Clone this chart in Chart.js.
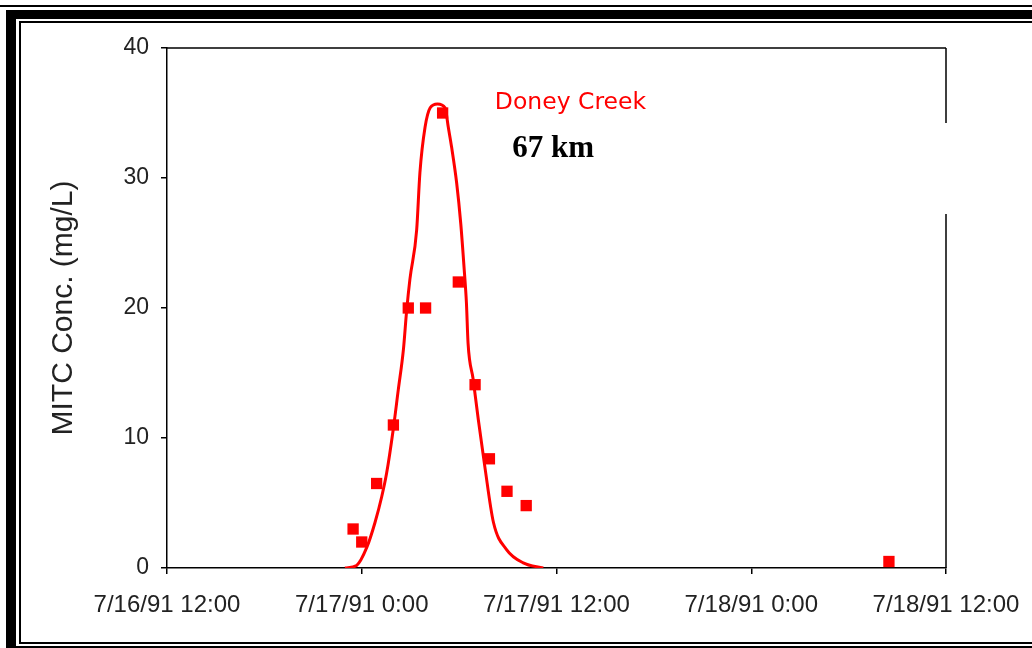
<!DOCTYPE html>
<html>
<head>
<meta charset="utf-8">
<script src="https://cdn.jsdelivr.net/npm/chart.js@4/dist/chart.umd.min.js"></script>
<style>
  html, body { margin: 0; padding: 0; background: #fff; }
  #wrap { width: 1032px; height: 648px; position: relative; }
</style>
</head>
<body>
<div id="wrap"><canvas id="c" width="1032" height="648"></canvas></div>
<script>
// Measured MITC concentrations (grab samples)
const sampleTimes = ['7/16/91 23:28', '7/17/91 0:00', '7/17/91 0:55', '7/17/91 1:57', '7/17/91 2:52',
  '7/17/91 3:56', '7/17/91 4:59', '7/17/91 5:57', '7/17/91 6:59', '7/17/91 7:52', '7/17/91 8:57',
  '7/17/91 10:08', '7/18/91 8:29'];
const sampleConc = [3.0, 2.0, 6.5, 11.0, 20.0, 20.0, 35.0, 22.0, 14.1, 8.4, 5.9, 4.8, 0.5];

// Simulated concentration curve
const modelTimes = ['7/16/91 22:58', '7/16/91 23:41', '7/17/91 0:19', '7/17/91 0:49', '7/17/91 1:14',
  '7/17/91 1:32', '7/17/91 1:56', '7/17/91 2:15', '7/17/91 2:34', '7/17/91 2:46', '7/17/91 2:58',
  '7/17/91 3:23', '7/17/91 3:35', '7/17/91 3:54', '7/17/91 4:13', '7/17/91 4:40', '7/17/91 5:08',
  '7/17/91 5:20', '7/17/91 5:32', '7/17/91 5:51', '7/17/91 6:06', '7/17/91 6:19', '7/17/91 6:27',
  '7/17/91 6:33', '7/17/91 6:52', '7/17/91 7:11', '7/17/91 7:35', '7/17/91 8:07', '7/17/91 8:56',
  '7/17/91 9:57', '7/17/91 11:11'];
const modelConc = [0, 0.2, 1.6, 3.5, 5.5, 7.3, 10.6, 13.7, 16.8, 19.8, 22.2, 26.0, 30.4, 33.9, 35.4,
  35.7, 35.4, 33.9, 32.4, 29.6, 26.5, 22.9, 20.4, 17.3, 14.5, 11.4, 7.8, 3.5, 1.4, 0.4, 0];

// Axis ticks
const xTickLabels = ['7/16/91 12:00', '7/17/91 0:00', '7/17/91 12:00', '7/18/91 0:00', '7/18/91 12:00'];
const yTickValues = [0, 10, 20, 30, 40];

// Annotations
const siteName = 'Doney Creek';
const siteDistance = '67 km';
const siteNameAt = ['7/17/91 8:12', 35.3];
const siteDistanceAt = ['7/17/91 9:16', 31.6];

// hours since 7/16/91 0:00
function toHours(s) {
  const [date, time] = s.split(' ');
  const day = parseInt(date.split('/')[1], 10);
  const [h, m] = time.split(':').map(Number);
  return (day - 16) * 24 + h + m / 60;
}
const labelByHour = {};
xTickLabels.forEach(l => { labelByHour[toHours(l).toFixed(3)] = l; });

const AXIS_FONT = "'Liberation Sans', Arial, Helvetica, sans-serif";

const framePlugin = {
  id: 'frame',
  beforeDraw(chart) {
    const ctx = chart.ctx;
    ctx.save();
    ctx.fillStyle = '#fff';
    ctx.fillRect(0, 0, chart.width, chart.height);
    ctx.fillStyle = '#000';
    // thin rule at top
    ctx.fillRect(0, 5, 1032, 2);
    // heavy outer frame
    ctx.fillRect(6, 10, 1026, 9);
    ctx.fillRect(6, 10, 10, 638);
    ctx.fillRect(6, 646, 1026, 2);
    // thin inner frame
    ctx.fillRect(19, 21, 1013, 2);
    ctx.fillRect(19, 21, 2, 623);
    ctx.fillRect(19, 642, 1013, 2);
    ctx.restore();
  },
  afterDraw(chart) {
    const ctx = chart.ctx;
    const a = chart.chartArea;
    const xs = chart.scales.x, ys = chart.scales.y;
    ctx.save();
    ctx.strokeStyle = '#000';
    ctx.lineWidth = 1.5;
    ctx.beginPath();
    ctx.moveTo(a.left, a.top);
    ctx.lineTo(a.right, a.top);
    ctx.moveTo(a.right, a.top);
    ctx.lineTo(a.right, a.top + 75);
    ctx.moveTo(a.right, a.top + 166);
    ctx.lineTo(a.right, a.bottom);
    ctx.stroke();

    ctx.textAlign = 'left';
    ctx.textBaseline = 'alphabetic';
    ctx.fillStyle = '#ff0000';
    ctx.font = "23.5px 'DejaVu Sans', Verdana, sans-serif";
    ctx.fillText(siteName, xs.getPixelForValue(toHours(siteNameAt[0])), ys.getPixelForValue(siteNameAt[1]));
    ctx.fillStyle = '#000';
    ctx.font = "bold 31px 'Liberation Serif', 'Times New Roman', serif";
    ctx.fillText(siteDistance, xs.getPixelForValue(toHours(siteDistanceAt[0])), ys.getPixelForValue(siteDistanceAt[1]));
    ctx.restore();
  }
};

new Chart(document.getElementById('c'), {
  type: 'scatter',
  data: {
    datasets: [
      {
        label: 'Measured',
        data: sampleTimes.map((t, i) => ({ x: toHours(t), y: sampleConc[i] })),
        pointStyle: 'rect',
        pointRadius: 8,
        backgroundColor: '#ff0000',
        borderColor: '#ff0000',
        borderWidth: 0,
        showLine: false,
        order: 0
      },
      {
        label: 'Simulated',
        data: modelTimes.map((t, i) => ({ x: toHours(t), y: modelConc[i] })),
        showLine: true,
        pointRadius: 0,
        borderColor: '#ff0000',
        borderWidth: 3,
        cubicInterpolationMode: 'monotone',
        fill: false,
        order: 1
      }
    ]
  },
  options: {
    responsive: false,
    animation: false,
    devicePixelRatio: 1,
    layout: { padding: { left: 0, right: 86, top: 48, bottom: 0 } },
    plugins: { legend: { display: false }, tooltip: { enabled: false } },
    scales: {
      x: {
        type: 'linear',
        min: toHours(xTickLabels[0]),
        max: toHours(xTickLabels[xTickLabels.length - 1]),
        afterBuildTicks(scale) { scale.ticks = xTickLabels.map(l => ({ value: toHours(l) })); },
        afterFit(scale) { scale.height = 80; scale.paddingLeft = 0; scale.paddingRight = 0; },
        ticks: {
          callback: v => labelByHour[Number(v).toFixed(3)] || '',
          font: { family: AXIS_FONT, size: 24 },
          color: '#222',
          padding: 17,
          maxRotation: 0,
          autoSkip: false
        },
        grid: { drawOnChartArea: false, drawTicks: true, tickLength: 6, color: '#000', lineWidth: 1.5 },
        border: { color: '#000', width: 1.5 }
      },
      y: {
        min: 0,
        max: 40,
        afterBuildTicks(scale) { scale.ticks = yTickValues.map(v => ({ value: v })); },
        afterFit(scale) { scale.width = 167; scale.paddingTop = 0; scale.paddingBottom = 0; },
        ticks: {
          font: { family: AXIS_FONT, size: 23 },
          color: '#222',
          padding: 12
        },
        grid: { drawOnChartArea: false, drawTicks: true, tickLength: 6, color: '#000', lineWidth: 1.5 },
        border: { color: '#000', width: 1.5 },
        title: {
          display: true,
          text: 'MITC Conc. (mg/L)',
          font: { family: AXIS_FONT, size: 30 },
          color: '#222',
          padding: { top: 46, bottom: 0 }
        }
      }
    }
  },
  plugins: [framePlugin]
});
</script>
</body>
</html>
